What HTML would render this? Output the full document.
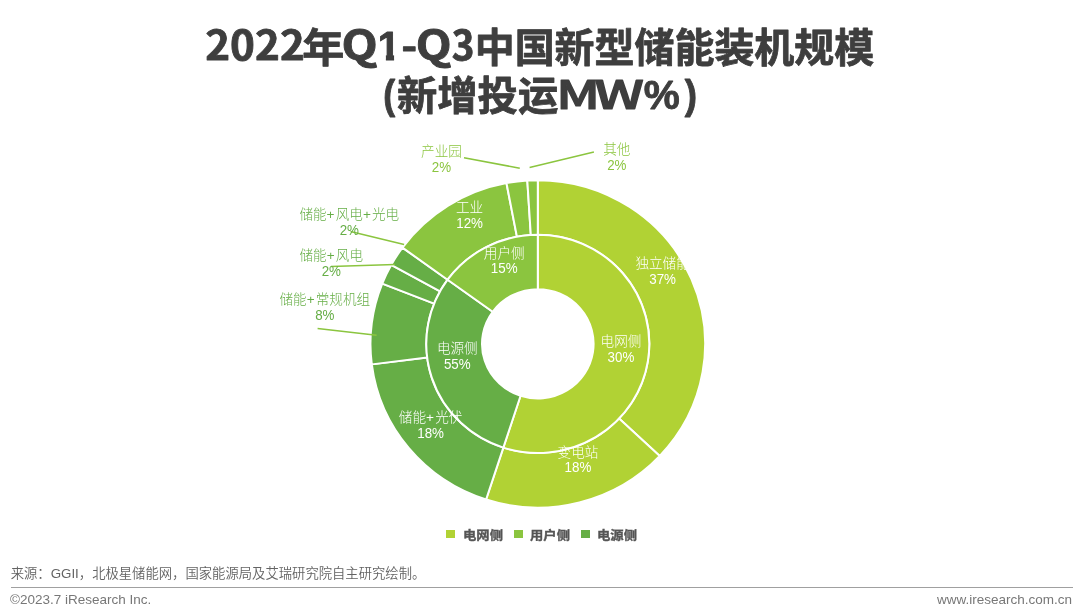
<!DOCTYPE html>
<html lang="zh-CN">
<head>
<meta charset="utf-8">
<title>2022年Q1-Q3中国新型储能装机规模</title>
<style>
html,body{margin:0;padding:0;background:#fff;}
body{width:1080px;height:615px;position:relative;overflow:hidden;font-family:"Liberation Sans","Noto Sans CJK SC",sans-serif;}
svg .dg{font-size:14.4px;}
svg .pl{letter-spacing:1.2px;}
svg .title text{font-size:40px;font-weight:bold;fill:#3e3e3e;text-anchor:start;}
svg .title .fn{font-family:"Noto Sans CJK SC",sans-serif;stroke:#3e3e3e;stroke-width:.8px;stroke-linejoin:round;}
svg .title .w500{font-weight:500;stroke:#3e3e3e;stroke-width:1.2px;stroke-linejoin:round;}
svg .title .fl{font-family:"Liberation Sans",sans-serif;stroke:#3e3e3e;stroke-width:.9px;stroke-linejoin:round;}
svg .title .fd{font-family:"DejaVu Sans",sans-serif;}
svg{position:absolute;left:0;top:0;}
svg text{font-family:"Liberation Sans","Noto Sans CJK SC",sans-serif;font-size:13.6px;text-anchor:middle;font-weight:300;}
.src{position:absolute;left:10.7px;top:563px;font-size:13.33px;color:#636363;font-weight:350;white-space:nowrap;}
.rule{position:absolute;left:11px;top:587px;width:1062px;height:1px;background:#a0a0a0;}
.copy{position:absolute;left:10px;top:592px;font-size:13.5px;color:#777;white-space:nowrap;}
.url{position:absolute;right:8px;top:592px;font-size:13.5px;color:#777;white-space:nowrap;}
.legend{position:absolute;top:525.8px;-webkit-text-stroke:0.35px #555;left:0;font-size:12.4px;font-weight:bold;color:#555;white-space:nowrap;}
.legend span{position:absolute;top:0;transform:scaleX(1.075);transform-origin:0 0;}
.legend i{position:absolute;top:3.9px;width:9px;height:8.2px;}
</style>
</head>
<body>
<svg width="1080" height="615" viewBox="0 0 1080 615">
<g class="title">
<text class="fn" transform="translate(205.22 60.3) scale(1.0549 1)">2022</text>
<text class="fn" transform="translate(302.32 62.0) scale(1.0516 1)">年</text>
<text class="fn" transform="translate(341.41 60.3) scale(1.1763 1)">Q</text>
<clipPath id="c1"><polygon points="0,-40 16.4,-40 16.4,2 8.2,2 8.2,-6 0,-6"/></clipPath>
<text class="fl" clip-path="url(#c1)" transform="translate(377.7 60.3)">1</text>
<text class="fn" transform="translate(401.13 60.3) scale(1.0833 1)">-</text>
<text class="fn" transform="translate(415.74 60.3) scale(1.1655 1)">Q</text>
<text class="fn" transform="translate(451.74 60.3) scale(0.9608 1)">3</text>
<text class="fn" transform="translate(474.70 62.0) scale(0.9990 1)">中国新型储能装机规模</text>
<text class="fl" transform="translate(383.21 108.8) scale(0.8929 1)">(</text>
<text class="fn" transform="translate(397.09 110.0) scale(1.0070 1)">新增投运</text>
<text class="fn w500" transform="translate(556.30 108.8) scale(1.3164 1)">M</text>
<text class="fn w500" transform="translate(594.42 108.8) scale(1.3817 1)">W</text>
<text class="fl" transform="translate(643.69 108.8) scale(1.0119 1)">%</text>
<text class="fl" transform="translate(684.82 108.8) scale(0.9196 1)">)</text>
</g>
<g stroke="#ffffff" stroke-width="2" stroke-linejoin="round">
<path d="M537.80 180.15A167.30 163.7 0 0 1 659.76 455.91L619.08 418.53A111.50 109.1 0 0 0 537.80 234.75Z" fill="#b1d234"/>
<path d="M659.76 455.91A167.30 163.7 0 0 1 486.10 499.54L503.34 447.61A111.50 109.1 0 0 0 619.08 418.53Z" fill="#b1d234"/>
<path d="M486.10 499.54A167.30 163.7 0 0 1 371.82 364.37L427.18 357.52A111.50 109.1 0 0 0 503.34 447.61Z" fill="#66ae46"/>
<path d="M371.82 364.37A167.30 163.7 0 0 1 382.25 283.59L434.13 303.69A111.50 109.1 0 0 0 427.18 357.52Z" fill="#66ae46"/>
<path d="M382.25 283.59A167.30 163.7 0 0 1 391.19 264.99L440.09 291.29A111.50 109.1 0 0 0 434.13 303.69Z" fill="#66ae46"/>
<path d="M391.19 264.99A167.30 163.7 0 0 1 402.45 247.63L447.59 279.72A111.50 109.1 0 0 0 440.09 291.29Z" fill="#66ae46"/>
<path d="M402.45 247.63A167.30 163.7 0 0 1 506.45 183.05L516.91 236.68A111.50 109.1 0 0 0 447.59 279.72Z" fill="#8bc53f"/>
<path d="M506.45 183.05A167.30 163.7 0 0 1 527.30 180.47L530.80 234.97A111.50 109.1 0 0 0 516.91 236.68Z" fill="#8bc53f"/>
<path d="M527.30 180.47A167.30 163.7 0 0 1 537.80 180.15L537.80 234.75A111.50 109.1 0 0 0 530.80 234.97Z" fill="#8bc53f"/>
<path d="M537.80 234.75A111.50 109.1 0 1 1 503.34 447.61L520.56 395.78A55.80 54.6 0 1 0 537.80 289.25Z" fill="#b1d234"/>
<path d="M503.34 447.61A111.50 109.1 0 0 1 447.59 279.72L492.66 311.76A55.80 54.6 0 0 0 520.56 395.78Z" fill="#66ae46"/>
<path d="M447.59 279.72A111.50 109.1 0 0 1 537.80 234.75L537.80 289.25A55.80 54.6 0 0 0 492.66 311.76Z" fill="#8bc53f"/>
</g>
<g stroke-width="1.5" fill="none">
<line x1="464" y1="157.8" x2="519.8" y2="168.2" stroke="#8bc53f"/>
<line x1="529.6" y1="167.4" x2="593.9" y2="151.9" stroke="#8bc53f"/>
<line x1="350.5" y1="231.6" x2="404.1" y2="244.5" stroke="#8bc53f"/>
<line x1="331" y1="266.5" x2="394.9" y2="264.5" stroke="#8bc53f"/>
<line x1="317.6" y1="328.4" x2="376.6" y2="335.2" stroke="#8bc53f"/>
</g>
<text x="662.6" y="268.2" fill="#ffffff">独立储能</text><text class="dg" transform="translate(662.6 283.9) scale(.93 1)" fill="#ffffff">37%</text>
<text x="578" y="456.6" fill="#ffffff">变电站</text><text class="dg" transform="translate(578 472.3) scale(.93 1)" fill="#ffffff">18%</text>
<text x="430.6" y="422.0" fill="#ffffff">储能<tspan class="pl">+</tspan>光伏</text><text class="dg" transform="translate(430.6 437.7) scale(.93 1)" fill="#ffffff">18%</text>
<text x="621" y="346.1" fill="#ffffff">电网侧</text><text class="dg" transform="translate(621 361.8) scale(.93 1)" fill="#ffffff">30%</text>
<text x="457.3" y="353.2" fill="#ffffff">电源侧</text><text class="dg" transform="translate(457.3 368.9) scale(.93 1)" fill="#ffffff">55%</text>
<text x="504.2" y="257.6" fill="#ffffff">用户侧</text><text class="dg" transform="translate(504.2 273.3) scale(.93 1)" fill="#ffffff">15%</text>
<text x="469.6" y="212.0" fill="#ffffff">工业</text><text class="dg" transform="translate(469.6 227.7) scale(.93 1)" fill="#ffffff">12%</text>
<text x="441.5" y="156.4" fill="#8bc53f">产业园</text><text class="dg" transform="translate(441.5 172.1) scale(.93 1)" fill="#8bc53f">2%</text>
<text x="616.8" y="153.8" fill="#8bc53f">其他</text><text class="dg" transform="translate(616.8 169.5) scale(.93 1)" fill="#8bc53f">2%</text>
<text x="349.3" y="218.8" fill="#66ae46">储能<tspan class="pl">+</tspan>风电<tspan class="pl">+</tspan>光电</text><text class="dg" transform="translate(349.3 234.5) scale(.93 1)" fill="#66ae46">2%</text>
<text x="331.3" y="259.8" fill="#66ae46">储能<tspan class="pl">+</tspan>风电</text><text class="dg" transform="translate(331.3 275.5) scale(.93 1)" fill="#66ae46">2%</text>
<text x="324.8" y="304.4" fill="#66ae46">储能<tspan class="pl">+</tspan>常规机组</text><text class="dg" transform="translate(324.8 320.1) scale(.93 1)" fill="#66ae46">8%</text>
</svg>
<div class="legend">
<i style="left:446.4px;background:#b1d234"></i><span style="left:463px">电网侧</span>
<i style="left:513.5px;background:#8bc53f"></i><span style="left:530.2px">用户侧</span>
<i style="left:580.9px;background:#66ae46"></i><span style="left:597.4px">电源侧</span>
</div>
<div class="src">来源：GGII，北极星储能网，国家能源局及艾瑞研究院自主研究绘制。</div>
<div class="rule"></div>
<div class="copy">©2023.7 iResearch Inc.</div>
<div class="url">www.iresearch.com.cn</div>
</body>
</html>
